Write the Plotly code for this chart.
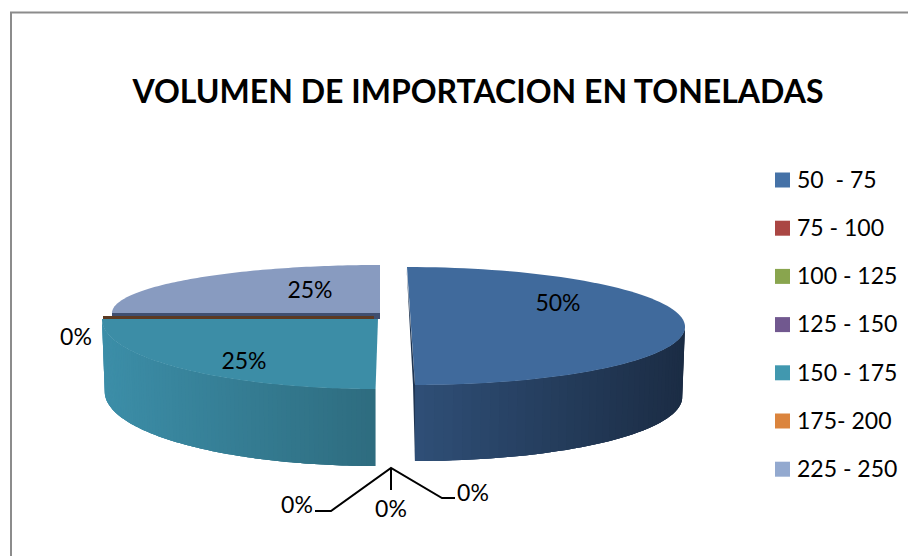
"""Exploded 3D-look pie: import volume per tonnage band."""
from __future__ import annotations

import numpy as np
import plotly.graph_objects as go


TITLE = "VOLUMEN DE IMPORTACION EN TONELADAS"
CATEGORIES = ["50  - 75", "75 - 100", "100 - 125", "125 - 150",
              "150 - 175", "175- 200", "225 - 250"]
SHARES = [50, 0, 0, 0, 25, 0, 25]
LEGEND_COLORS = ["#4572A7", "#AA4643", "#89A54E", "#71588F",
                 "#4198AF", "#DB843D", "#93A9CF"]

FONT = "Lato"
W, H = 916, 556
# the page body has an 8px margin, so the figure only gets what is left
PAGE_MARGIN = 8

# per-slice geometry of the fake 3D projection (only the non-zero slices)
# index: cx, cy, rx, ry, side depth, front depth, skew, top colour, wall left, wall right
SLICE_STYLE = {
    0: (411, 326, 274, 59, 70, 76, 0.068, "#406a9c", "#2f4f77", "#1b2c44"),
    4: (378, 319, 276, 70, 72, 77, -0.035, "#3c8da6", "#3c8ea8", "#2e6c7f"),
    6: (380, 313, 268, 48, 3, 3, 0.0, "#889bc0", "#3f4f70", "#3f4f70"),
}
LABEL_POS = [(558, 305), None, None, None, (244, 363), None, (310, 292)]
ZERO_LABEL_POS = [(297, 507), (391, 511), (473, 495), (76, 339)]


def _rgb(hex_str):
    return np.array([int(hex_str[i:i + 2], 16) for i in (1, 3, 5)], dtype=float)


def _mix(a, b, t):
    c = _rgb(a) * (1 - t) + _rgb(b) * t
    return "rgb(%d, %d, %d)" % tuple(c.round())


def _rim(style, theta):
    cx, cy, rx, ry, skew = style[0], style[1], style[2], style[3], style[6]
    y = -ry * np.cos(theta)
    return cx + rx * np.sin(theta) + y * skew, cy + y


def _poly(fig, xs, ys, color):
    fig.add_trace(go.Scatter(
        x=list(xs), y=list(ys), mode="none", fill="toself", fillcolor=color,
        showlegend=False, hoverinfo="skip",
    ))


def add_slice(fig, style, start, end):
    cx, side, front_depth, top, wall_a, wall_b = style[0], style[4], style[5], style[7], style[8], style[9]
    theta = np.linspace(start, end, 91)
    x, y = _rim(style, theta)
    # lower rim sits a little further away, so it is slightly narrower
    low_x = cx + (x - cx) * 0.99
    low_y = y + side + (front_depth - side) * np.clip(-np.cos(theta), 0, 1)
    # outer wall: strips shaded along x, each overlaps the next to hide seams
    idx = np.where(np.cos(theta) <= 0.02)[0]
    if len(idx) > 1:
        xmin, xmax = x[idx].min(), x[idx].max()
        for i, j in zip(idx[:-1], idx[1:]):
            k = min(j + 2, idx[-1])
            t = ((x[i] + x[j]) / 2 - xmin) / max(xmax - xmin, 1)
            _poly(fig, [*x[i:k + 1], *low_x[i:k + 1][::-1]],
                  [*y[i:k + 1], *low_y[i:k + 1][::-1]], _mix(wall_a, wall_b, t))
    _poly(fig, [cx, *x], [style[1], *y], top)


def build_figure():
    fig = go.Figure()
    edges = np.cumsum([0, *SHARES]) / sum(SHARES) * 2 * np.pi

    # blue slice: the sliver of its cut face shows at the left
    blue = SLICE_STYLE[0]
    add_slice(fig, blue, edges[0], edges[1])
    tx, ty = _rim(blue, 0.0)
    bx, by = _rim(blue, np.pi)
    _poly(fig, [tx - 0.5, bx - 2, bx, bx], [ty, by, by + blue[5], by], "#1f3552")

    # back slice with its dark cut face, then the zero slices' brown edge
    back = SLICE_STYLE[6]
    cx, cy, rx = back[0], back[1], back[2]
    _poly(fig, [cx - rx, cx, cx, cx - rx], [cy, cy, cy + 6, cy + 6], back[8])
    add_slice(fig, back, edges[6], edges[7])
    _poly(fig, [cx - rx - 9, cx - 6, cx - 6, cx - rx - 9],
          [cy + 3, cy + 3, cy + 6, cy + 6], "#5c3a22")

    add_slice(fig, SLICE_STYLE[4], edges[4], edges[5])

    # leader lines of the 0% labels
    fig.add_trace(go.Scatter(
        x=[315, 331, 391, 442, 455, None, 391, 391],
        y=[511, 511, 468, 498, 498, None, 468, 490],
        mode="lines", line=dict(color="#000000", width=2),
        showlegend=False, hoverinfo="skip",
    ))

    # data labels
    label_x = [p[0] for p in LABEL_POS if p] + [p[0] for p in ZERO_LABEL_POS]
    label_y = [p[1] for p in LABEL_POS if p] + [p[1] for p in ZERO_LABEL_POS]
    label_text = [f"{s}%" for s, p in zip(SHARES, LABEL_POS) if p] + ["0%"] * len(ZERO_LABEL_POS)
    fig.add_trace(go.Scatter(
        x=label_x, y=label_y, mode="text", text=label_text,
        textposition="middle center",
        textfont=dict(family=FONT, size=23, color="#000000"),
        showlegend=False, hoverinfo="skip",
    ))

    # legend column
    legend_y = [180 + 48.2 * i for i in range(len(CATEGORIES))]
    fig.add_trace(go.Scatter(
        x=[782.5] * len(CATEGORIES), y=legend_y, mode="markers",
        marker=dict(symbol="square", size=15, color=LEGEND_COLORS, line=dict(width=0)),
        showlegend=False, hovertext=CATEGORIES, hoverinfo="text",
    ))
    fig.add_trace(go.Scatter(
        x=[797] * len(CATEGORIES), y=[v + 2 for v in legend_y], mode="text", text=CATEGORIES,
        textposition="middle right",
        textfont=dict(family=FONT, size=23, color="#000000"),
        showlegend=False, hoverinfo="skip",
    ))

    fig_w, fig_h = W - PAGE_MARGIN, H - PAGE_MARGIN
    fig.update_layout(
        width=fig_w, height=fig_h,
        margin=dict(l=0, r=0, t=0, b=0),
        paper_bgcolor="#ffffff", plot_bgcolor="#ffffff",
        showlegend=False,
        title=dict(text=f"<b>{TITLE}</b>", x=(478 - PAGE_MARGIN) / fig_w, xanchor="center",
                   y=1 - (92 - PAGE_MARGIN) / fig_h, yanchor="middle",
                   font=dict(family=FONT, size=32, color="#000000")),
        xaxis=dict(range=[PAGE_MARGIN, W], visible=False, fixedrange=True),
        yaxis=dict(range=[H, PAGE_MARGIN], visible=False, fixedrange=True),
        shapes=[
            dict(type="line", x0=11, x1=11, y0=12, y1=H,
                 line=dict(color="#8c8c8c", width=2)),
            dict(type="line", x0=10, x1=W, y0=12.5, y1=12.5,
                 line=dict(color="#8c8c8c", width=2)),
        ],
    )
    return fig


fig = build_figure()
fig.write_html("out.html")
